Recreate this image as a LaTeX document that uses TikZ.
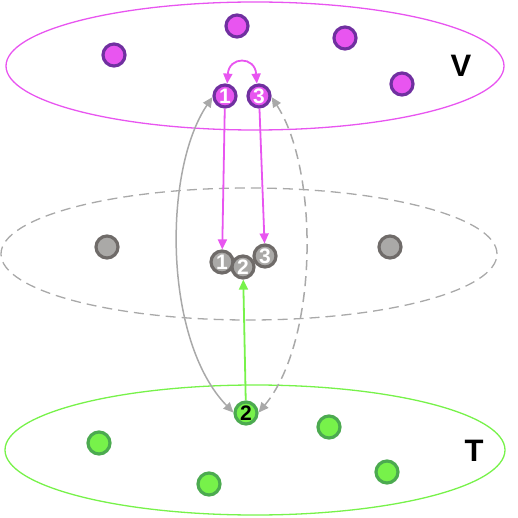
\documentclass[tikz,border=0pt]{standalone}
\usepackage{fontspec}
\setmainfont{Liberation Sans}
\usetikzlibrary{arrows.meta}
\definecolor{mag}{HTML}{E855F0}
\definecolor{purp}{HTML}{7030A0}
\definecolor{gfill}{HTML}{AAA9A7}
\definecolor{gline}{HTML}{6F6B69}
\definecolor{lgray}{HTML}{A9A9A9}
\definecolor{grn}{HTML}{77F24A}
\definecolor{dgrn}{HTML}{4CAA50}
\begin{document}
\begin{tikzpicture}[x=1pt,y=-1pt,
  vert/.style={circle, minimum size=22pt, inner sep=0pt, line width=3.2pt, font=\fontsize{21}{21}\selectfont\bfseries},
  vnode/.style={vert, draw=purp, fill=mag, text=white},
  mnode/.style={vert, draw=gline, fill=gfill, text=white},
  tnode/.style={vert, draw=dgrn, fill=grn, text=black},
  tip/.style={-{Triangle[length=10pt,width=9pt]}},
  both/.style={{Triangle[length=10pt,width=9pt]}-{Triangle[length=10pt,width=9pt]}},
  setlabel/.style={font=\fontsize{31}{31}\selectfont\bfseries},
  dashpat/.style={dash pattern=on 10pt off 6pt}
]
\useasboundingbox (0,0) rectangle (518,518);
% sets
\draw[mag, line width=1.3pt] (255,66) ellipse [x radius=249pt, y radius=64pt];
\draw[lgray, line width=1.3pt, dashpat] (249,254) ellipse [x radius=248pt, y radius=66pt];
\draw[grn, line width=1.3pt] (255,450) ellipse [x radius=250pt, y radius=65pt];
\node[setlabel] (lv) at (461,66) {V};
\node[setlabel] (lt) at (474,451) {T};
% V nodes
\node[vnode] (va) at (114,55) {};
\node[vnode] (vb) at (237,26) {};
\node[vnode] (vc) at (345,38) {};
\node[vnode] (vd) at (402,84) {};
\node[vnode] (m1) at (225,96) {1};
\node[vnode] (m3) at (259,96) {3};
% middle nodes
\node[mnode] (ma) at (107,247) {};
\node[mnode] (mb) at (390,247) {};
\node[mnode] (n1) at (222,262) {1};
\node[mnode] (n2) at (243,267) {2};
\node[mnode] (n3) at (265,256) {3};
% T nodes
\node[tnode] (g2) at (246,413) {2};
\node[tnode] (ta) at (99,443) {};
\node[tnode] (tb) at (209,484) {};
\node[tnode] (tc) at (329,427) {};
\node[tnode] (td) at (387,472) {};
% connectors
\draw[tip, mag, line width=1.8pt] (m1) -- (n1);
\draw[tip, mag, line width=1.8pt] (m3) -- (n3);
\draw[tip, grn, line width=1.8pt] (g2) -- (n2);
\draw[both, mag, line width=1.8pt] (m1.80) .. controls (229,56) and (255,56) .. (m3.100);
\draw[both, lgray, line width=1.5pt] (m1.185) .. controls (163,170) and (163,340) .. (g2.178);
\draw[both, lgray, line width=1.5pt, dashpat] (m3.355) .. controls (319,170) and (319,340) .. (g2.2);
\end{tikzpicture}
\end{document}
